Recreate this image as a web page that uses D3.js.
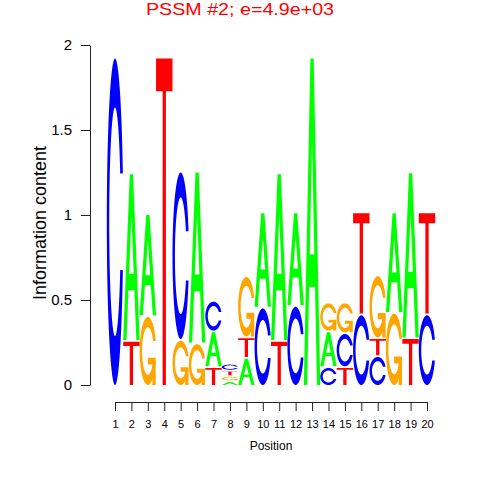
<!DOCTYPE html>
<html>
<head>
<meta charset="utf-8">
<script src="https://cdn.jsdelivr.net/npm/d3@7"></script>
<style>
  html, body { margin: 0; padding: 0; background: #fff; }
  svg { display: block; font-family: "Liberation Sans", Arial, Helvetica, sans-serif; }
</style>
</head>
<body>
<div id="chart"></div>
<script>
// letter heights (bits) per position
const positions = [1, 2, 3, 4, 5, 6, 7, 8, 9, 10, 11, 12, 13, 14, 15, 16, 17, 18, 19, 20];
const heightA = [0, 0.975, 0.59, 0, 0, 1.0, 0.2, 0.018, 0.155, 0.55, 0.975, 0.54, 1.92, 0.2, 0, 0, 0, 0.58, 0.965, 0];
const heightC = [1.92, 0, 0, 0, 0.98, 0, 0.17, 0.03, 0, 0.45, 0, 0.46, 0, 0.1, 0.19, 0.41, 0.165, 0, 0, 0.41];
const heightG = [0, 0, 0.4, 0, 0.26, 0.24, 0, 0.02, 0.35, 0, 0, 0, 0, 0.16, 0.17, 0, 0.36, 0.42, 0, 0];
const heightT = [0, 0.255, 0, 1.92, 0, 0, 0.1, 0.022, 0.11, 0, 0.255, 0, 0, 0, 0.1, 0.59, 0.095, 0, 0.27, 0.59];
// stacking order, bottom to top
const stackOrder = ['C', 'TA', 'GA', 'T', 'GC', 'GA', 'TAC', 'AGTC', 'ATG', 'CA', 'TA', 'CA', 'A', 'CAG', 'TCG', 'CT', 'CTG', 'GA', 'TA', 'CT'];
const yTicks = [0, 0.5, 1, 1.5, 2];

const heights = { A: heightA, C: heightC, G: heightG, T: heightT };
const colors = { A: '#00ff00', C: '#0000ff', G: '#ffa500', T: '#ff0000' };
const gap = 0.01;

const width = 480;
const height = 480;

const x = d3.scaleLinear().domain([1, 20]).range([115, 427]);
const y = d3.scaleLinear().domain([0, 2]).range([385, 45]);

const svg = d3.select('#chart')
  .append('svg')
  .attr('width', width)
  .attr('height', height)
  .attr('viewBox', `0 0 ${width} ${height}`);

// letter outlines in a unit box, x to the right and y up
function ringPoints() {
  const n = 100;
  const a1 = d3.range(n).map(i => 0.3 + Math.PI / 2 + i * (Math.PI / 2 - 0.3) / (n - 1));
  const a2 = d3.range(n).map(i => Math.PI + i * (Math.PI / 2) / (n - 1));
  const arc = (angles, r) => angles.map(a => [0.5 + r * Math.sin(a), 0.5 + r * Math.cos(a)]);

  const outer1 = arc(a1, 0.5);
  const outerL = outer1.concat(arc(a2, 0.5));
  const hMax = d3.max(outer1, p => p[1]);
  const inner1 = arc(a1, 0.35).filter(p => p[1] <= hMax);
  inner1[0] = [inner1[0][0], hMax];
  const innerL = inner1.concat(arc(a2, 0.35));

  const mirror = pts => pts.concat(pts.slice().reverse().map(p => [p[0], 1 - p[1]]));
  const outer = mirror(outerL);
  const inner = mirror(innerL);
  return { pts: outer.concat(inner.reverse()), r1: d3.max(outer1, p => p[0]) };
}

const ring = ringPoints();
const glyphs = {
  A: [
    { pts: [[0, 0], [0.4, 1], [0.6, 1], [1, 0], [0.8, 0], [0.68, 0.3], [0.32, 0.3], [0.2, 0], [0, 0]] },
    { pts: [[0.36, 0.4], [0.5, 0.75], [0.64, 0.4]], fill: '#ffffff' }
  ],
  C: [{ pts: ring.pts }],
  G: [
    { pts: ring.pts },
    { pts: [[ring.r1, 0.4], [0.5, 0.4], [0.5, 0.3], [ring.r1 - 0.2, 0.3], [ring.r1 - 0.2, 0], [ring.r1, 0], [ring.r1, 0.4]] }
  ],
  T: [{ pts: [[0, 1], [1, 1], [1, 0.9], [0.6, 0.9], [0.6, 0], [0.4, 0], [0.4, 0.9], [0, 0.9]] }]
};

// build the stacked letters
const marks = [];
positions.forEach((pos, i) => {
  let base = 0;
  stackOrder[i].split('').forEach(letter => {
    const h = heights[letter][i];
    if (h > 0) marks.push({ pos, letter, base, h });
    base += h + gap;
  });
});

const line = d3.line();
const logo = svg.append('g').attr('class', 'logo');

marks.forEach(m => {
  glyphs[m.letter].forEach(part => {
    const pts = part.pts.map(p => [x(m.pos - 0.5 + p[0]), y(m.base + p[1] * m.h)]);
    logo.append('path')
      .attr('d', line(pts) + 'Z')
      .attr('fill', part.fill || colors[m.letter]);
  });
});

// y axis
const yAxis = svg.append('g')
  .attr('transform', 'translate(90,0)')
  .call(d3.axisLeft(y).tickValues(yTicks).tickSize(9).tickSizeOuter(0).tickPadding(9).tickFormat(d => String(d)));
yAxis.selectAll('text').attr('font-size', 15).attr('fill', '#000').attr('font-family', null);
yAxis.selectAll('line, path').attr('stroke', '#222');

// x axis
const xAxis = svg.append('g')
  .attr('transform', 'translate(0,402)')
  .call(d3.axisBottom(x).tickValues(positions).tickSize(9).tickSizeOuter(0).tickPadding(9).tickFormat(d => String(d)));
xAxis.selectAll('text').attr('font-size', 11).attr('fill', '#000').attr('font-family', null);
xAxis.selectAll('line, path').attr('stroke', '#222');

// labels
svg.append('text')
  .attr('x', 240)
  .attr('y', 15)
  .attr('text-anchor', 'middle')
  .attr('font-size', 17)
  .attr('textLength', 188)
  .attr('lengthAdjust', 'spacingAndGlyphs')
  .attr('fill', '#ff0000')
  .text('PSSM #2; e=4.9e+03');

svg.append('text')
  .attr('transform', 'translate(46,223) rotate(-90)')
  .attr('text-anchor', 'middle')
  .attr('font-size', 18)
  .attr('fill', '#000')
  .text('Information content');

svg.append('text')
  .attr('x', 271)
  .attr('y', 450)
  .attr('text-anchor', 'middle')
  .attr('font-size', 12)
  .attr('fill', '#000')
  .text('Position');
</script>
</body>
</html>
